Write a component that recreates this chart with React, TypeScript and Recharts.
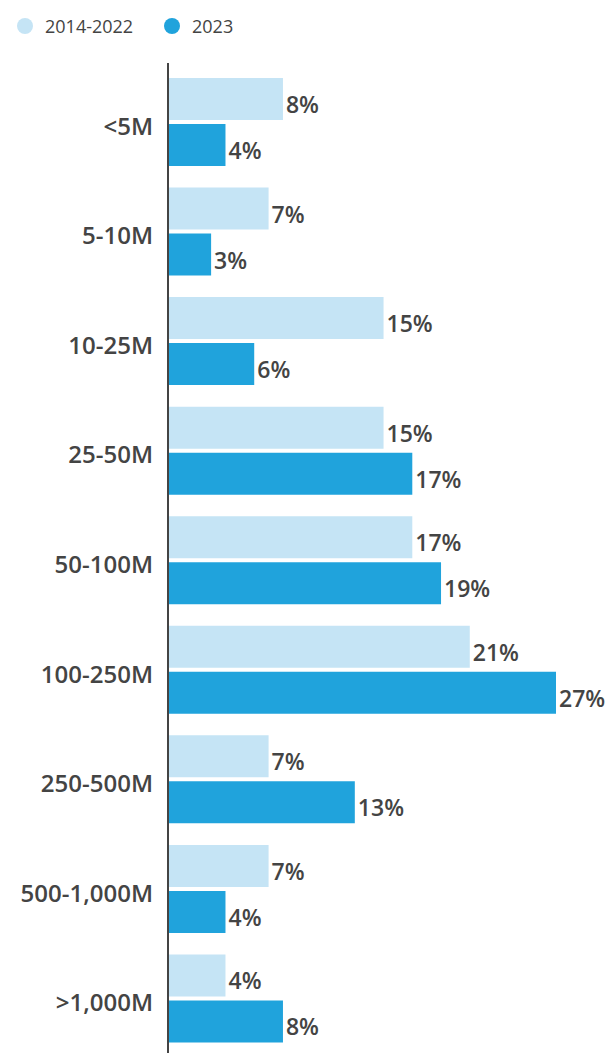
import React from 'react';
import { BarChart, Bar, XAxis, YAxis, LabelList } from 'recharts';

const categories = ['<5M', '5-10M', '10-25M', '25-50M', '50-100M', '100-250M', '250-500M', '500-1,000M', '>1,000M'];
const series2014to2022 = [8, 7, 15, 15, 17, 21, 7, 7, 4];
const series2023 = [4, 3, 6, 17, 19, 27, 13, 4, 8];
const seriesNames = ['2014-2022', '2023'];

const LIGHT = '#c5e4f5';
const DARK = '#20a3dc';
const TEXT = '#444444';
const FONT = '"Open Sans", "Noto Sans", sans-serif';

const data = categories.map((name, i) => ({
  name,
  a: series2014to2022[i],
  b: series2023[i],
}));

const CategoryTick = (props: any) => {
  const { x, y, payload } = props;
  return (
    <text x={x} y={y} dy={13} textAnchor="end" fill={TEXT} fontFamily={FONT} fontWeight={600} fontSize={24}>
      {payload.value}
    </text>
  );
};

const ValueLabel = (props: any) => {
  const { x, y, width, height, value } = props;
  return (
    <text x={x + width + 3} y={y + height / 2 + 14} textAnchor="start" fill={TEXT} fontFamily={FONT} fontWeight={600} fontSize={23}>
      {value}%
    </text>
  );
};

const LegendItem = ({ color, label, left }: { color: string; label: string; left: number }) => (
  <div style={{ position: 'absolute', left, top: 0, height: 52, display: 'flex', alignItems: 'center' }}>
    <span style={{ width: 16, height: 16, borderRadius: 8, background: color, display: 'inline-block', marginRight: 12 }} />
    <span style={{ fontFamily: FONT, fontSize: 18, color: TEXT }}>{label}</span>
  </div>
);

export default function App() {
  return (
    <div style={{ position: 'absolute', left: 0, top: 0, width: 610, height: 1053, background: '#fff' }}>
      <LegendItem color={LIGHT} label={seriesNames[0]} left={17} />
      <LegendItem color={DARK} label={seriesNames[1]} left={164} />
      <BarChart
        width={610}
        height={1053}
        data={data}
        layout="vertical"
        margin={{ top: 63, right: 54, left: 0, bottom: 0 }}
        barSize={42}
        barGap={4}
      >
        <XAxis type="number" domain={[0, 27]} hide />
        <YAxis
          type="category"
          dataKey="name"
          width={168}
          padding={{ top: 4, bottom: 0 }}
          axisLine={{ stroke: TEXT, strokeWidth: 2 }}
          tickLine={false}
          tickSize={0}
          tickMargin={15}
          tick={<CategoryTick />}
          interval={0}
        />
        <Bar dataKey="a" name={seriesNames[0]} fill={LIGHT} isAnimationActive={false}>
          <LabelList dataKey="a" content={<ValueLabel />} />
        </Bar>
        <Bar dataKey="b" name={seriesNames[1]} fill={DARK} isAnimationActive={false}>
          <LabelList dataKey="b" content={<ValueLabel />} />
        </Bar>
      </BarChart>
    </div>
  );
}
